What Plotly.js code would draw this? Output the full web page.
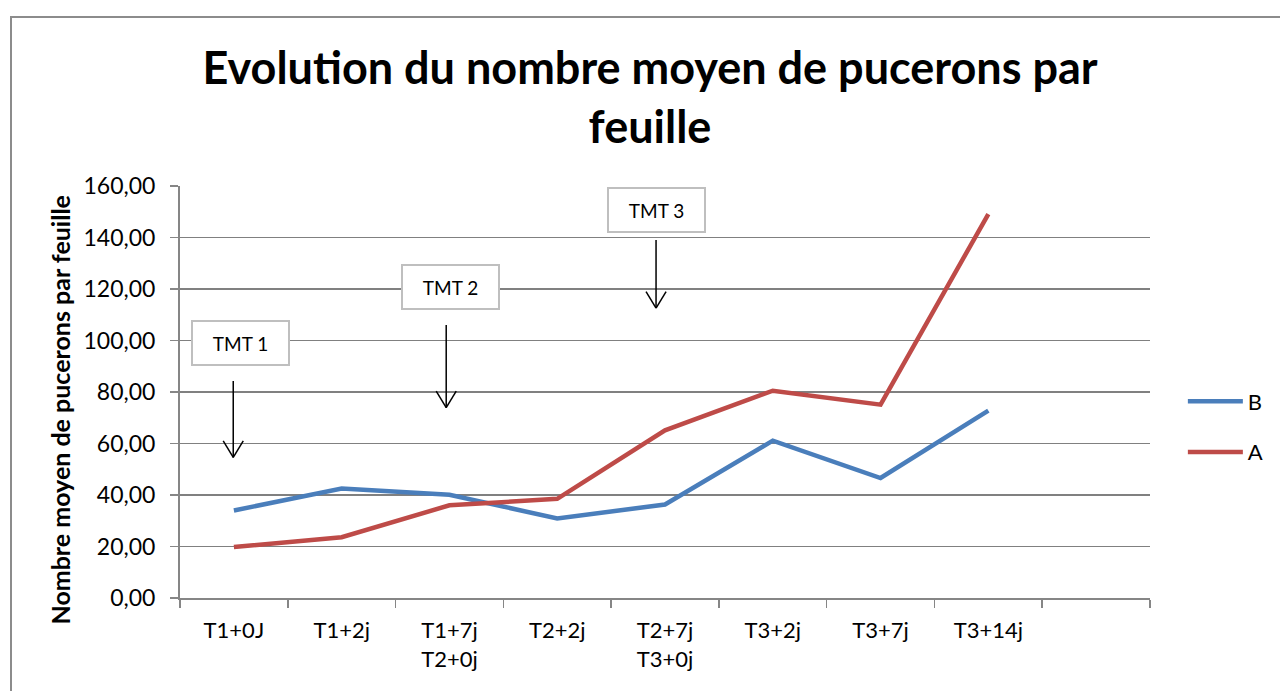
<!DOCTYPE html>
<html>
<head>
<meta charset="utf-8">
<script src="https://cdn.plot.ly/plotly-3.0.1.min.js"></script>
<style>
  html, body { margin: 0; padding: 0; background: #fff; }
  #frame { position: absolute; left: 10px; top: 16px; width: 1280px; height: 700px;
           border-top: 2px solid #8c8c8c; border-left: 2px solid #8c8c8c; box-sizing: border-box; }
  #chart { position: absolute; left: 0; top: 0; width: 1280px; height: 691px; }
</style>
</head>
<body>
<div id="frame"></div>
<div id="chart"></div>
<script>
// ---- data ----
const categories = ["T1+0J", "T1+2j", "T1+7j<br>T2+0j", "T2+2j", "T2+7j<br>T3+0j", "T3+2j", "T3+7j", "T3+14j", " "];
const seriesB = [34.0, 42.5, 40.1, 30.9, 36.3, 61.1, 46.6, 72.8];
const seriesA = [19.8, 23.6, 36.0, 38.5, 65.1, 80.5, 75.1, 149.1];
const yTickVals = [0, 20, 40, 60, 80, 100, 120, 140, 160];
const yTickText = ["0,00", "20,00", "40,00", "60,00", "80,00", "100,00", "120,00", "140,00", "160,00"];
const yTitle = "Nombre moyen de pucerons par feuille";
const tmtLabels = ["TMT 1", "TMT 2", "TMT 3"];
const tmtBoxX = [0.06, 2.014, 3.917];
const tmtBoxY = [99.0, 120.6, 150.7];
const tmtArrowX = [-0.006, 1.97, 3.917];
const tmtArrowTop = [84.3, 106.0, 139.0];
const tmtArrowBottom = [54.6, 73.9, 112.6];

const FONT = "Lato, 'Open Sans', sans-serif";
const dataCats = categories.slice(0, 8);
const plotL = 180, plotR = 1154, plotT = 186, plotB = 598;

const traces = [
  { x: dataCats, y: seriesB, name: "B", type: "scatter", mode: "lines",
    line: { color: "#4A7EBB", width: 4.5 }, legendgroup: "b" },
  { x: dataCats, y: seriesA, name: "A", type: "scatter", mode: "lines",
    line: { color: "#BE4B48", width: 4.5 }, legendgroup: "a" }
];

const annotations = tmtLabels.map((t, i) => ({
  x: tmtBoxX[i], y: tmtBoxY[i], xref: "x", yref: "y", text: t, showarrow: false,
  font: { family: FONT, size: 19, color: "#000" },
  bgcolor: "#fff", bordercolor: "#BFBFBF", borderwidth: 2, borderpad: 0,
  width: 95, height: 42
}));
annotations.push({
  xref: "paper", yref: "paper",
  x: (60 - plotL) / (plotR - plotL), y: (plotB - 410) / (plotB - plotT),
  xanchor: "center", yanchor: "middle", textangle: -90, showarrow: false,
  text: yTitle, font: { family: FONT, size: 25, color: "#000", weight: "bold" }
});

const headW = 0.093, headH = 6.4;
const shapes = [];
tmtLabels.forEach((t, i) => {
  const ln = { color: "#000", width: 1.5 };
  shapes.push({ type: "line", xref: "x", yref: "y", x0: tmtArrowX[i], x1: tmtArrowX[i], y0: tmtArrowTop[i], y1: tmtArrowBottom[i], line: ln });
  shapes.push({ type: "line", xref: "x", yref: "y", x0: tmtArrowX[i] - headW, x1: tmtArrowX[i], y0: tmtArrowBottom[i] + headH, y1: tmtArrowBottom[i], line: ln });
  shapes.push({ type: "line", xref: "x", yref: "y", x0: tmtArrowX[i] + headW, x1: tmtArrowX[i], y0: tmtArrowBottom[i] + headH, y1: tmtArrowBottom[i], line: ln });
});

const layout = {
  width: 1280, height: 691,
  margin: { l: plotL, r: 1280 - plotR, t: plotT, b: 691 - plotB },
  paper_bgcolor: "rgba(0,0,0,0)", plot_bgcolor: "rgba(0,0,0,0)",
  font: { family: FONT, color: "#000" },
  title: {
    text: "Evolution du nombre moyen de pucerons par<br>feuille",
    font: { family: FONT, size: 45, color: "#000", weight: "bold" },
    x: 650 / 1280, xanchor: "center", xref: "container",
    y: 1 - 84 / 691, yanchor: "middle", yref: "container"
  },
  xaxis: {
    type: "category", categoryorder: "array", categoryarray: categories,
    range: [-0.5, 8.5], tickson: "boundaries", ticks: "outside", ticklen: 8, tickwidth: 1.5,
    tickcolor: "#868686", showline: true, linecolor: "#868686", linewidth: 2,
    showgrid: false, zeroline: false, fixedrange: true,
    tickfont: { family: FONT, size: 22, color: "#000" }, ticklabelstandoff: 12
  },
  yaxis: {
    range: [0, 160], tickvals: yTickVals, ticktext: yTickText,
    ticks: "outside", ticklen: 8, tickwidth: 1.5, tickcolor: "#868686",
    showline: true, linecolor: "#868686", linewidth: 2,
    showgrid: true, gridcolor: "#808080", gridwidth: 1.6, zeroline: false,
    tickfont: { family: FONT, size: 23, color: "#000" }, ticklabelstandoff: 10
  },
  showlegend: true,
  legend: {
    x: (1187 - plotL) / (plotR - plotL), xanchor: "left", y: (plotB - 427) / (plotB - plotT), yanchor: "middle",
    font: { family: FONT, size: 22, color: "#000" }, tracegroupgap: 19,
    itemwidth: 55, bgcolor: "rgba(0,0,0,0)"
  },
  annotations: annotations,
  shapes: shapes
};

Plotly.newPlot("chart", traces, layout, { displayModeBar: false, staticPlot: true });
</script>
</body>
</html>
